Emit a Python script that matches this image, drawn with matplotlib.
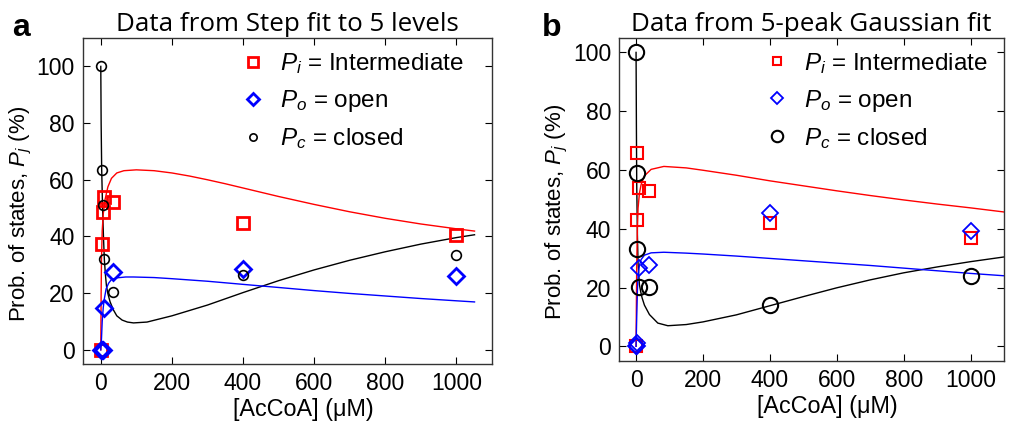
import matplotlib
matplotlib.use('Agg')
import matplotlib.pyplot as plt

plt.rcParams['font.family'] = ['Liberation Sans', 'DejaVu Sans']
plt.rcParams['mathtext.fontset'] = 'custom'
plt.rcParams['mathtext.it'] = 'Liberation Sans:italic'
plt.rcParams['mathtext.rm'] = 'Liberation Sans'

# ---- panel a: step fit to 5 levels ----
conc_a = [0, 2.5, 5, 10, 35, 400, 1000]
pi_a = [0, 37.2, 48.6, 53.8, 52.1, 44.9, 40.5]
po_a = [0, 0, 0, 14.7, 27.6, 28.5, 26.1]
pc_a = [100, 63.3, 51.2, 32.0, 20.4, 26.5, 33.5]

# model curves
fit_x_red_a = [0, 1, 2, 4, 7, 12, 20, 30, 45, 65, 100, 150, 200, 250, 300, 350, 400, 450, 500,
               600, 700, 800, 900, 1000, 1051]
fit_red_a = [0, 20, 32, 42, 48, 53, 57.5, 60.5, 62.4, 63.2, 63.5, 63.2, 62.4, 61.3, 60.0, 58.6, 57.1,
             55.6, 54.1, 51.3, 48.7, 46.4, 44.4, 42.7, 41.9]
fit_x_blk_a = [0, 1, 2.5, 5, 7.5, 10, 13, 16, 20, 26, 35, 45, 60, 75, 92, 130, 200, 300, 400, 500,
               600, 700, 800, 900, 1000, 1051]
fit_blk_a = [100, 80, 64, 50, 40, 32, 26.5, 22.5, 19.8, 17.0, 14.2, 12.0, 10.5, 9.8, 9.5, 9.8, 12.0,
             15.8, 20.2, 24.4, 28.2, 31.6, 34.6, 37.3, 39.6, 40.6]
fit_x_blu_a = [0, 2, 4, 7, 10, 15, 22, 30, 45, 70, 92, 150, 200, 300, 400, 500, 600, 700, 800, 900,
               1000, 1051]
fit_blu_a = [0, 4, 10, 15, 18, 21.5, 23.5, 24.8, 25.4, 25.7, 25.7, 25.5, 25.1, 24.2, 23.1, 22.0,
             20.9, 19.9, 19.0, 18.1, 17.3, 16.9]

# ---- panel b: 5-peak Gaussian fit ----
conc_b = [0, 2, 4, 8, 38, 400, 1000]
pi_b = [0, 43.0, 65.7, 53.8, 52.9, 42.1, 37.0]
po_b = [0, 0, 1.0, 26.8, 27.6, 45.3, 39.4]
pc_b = [100, 58.9, 33.1, 20.2, 20.2, 13.9, 23.8]

fit_x_red_b = [0, 1, 2, 4, 6, 10, 15, 25, 45, 83, 150, 200, 300, 400, 500, 600, 700, 800, 900,
               1000, 1100]
fit_red_b = [0, 15, 28, 40, 47, 52, 55, 58, 60.2, 61.2, 60.7, 59.9, 58.2, 56.3, 54.6, 52.9, 51.3,
             49.8, 48.4, 47.1, 45.7]
fit_x_blk_b = [0, 1, 2, 4, 6, 10, 14, 18, 25, 40, 65, 95, 150, 200, 300, 400, 500, 600, 700, 800,
               900, 1000, 1100]
fit_blk_b = [100, 75, 55, 38, 28, 21, 18.5, 16.5, 14.0, 10.8, 7.9, 7.0, 7.4, 8.3, 10.7, 13.8, 16.9,
             19.9, 22.6, 25.0, 27.0, 28.8, 30.4]
fit_x_blu_b = [0, 2, 4, 6, 10, 15, 25, 45, 83, 150, 200, 300, 400, 500, 600, 700, 800, 900, 1000,
               1100]
fit_blu_b = [0, 10, 19, 24, 27.5, 29.5, 31, 31.8, 32.0, 31.7, 31.4, 30.7, 29.9, 29.1, 28.3, 27.5,
             26.6, 25.7, 24.8, 24.0]

fig = plt.figure(figsize=(10.11, 4.25), dpi=100)
ax_a = fig.add_axes([0.0821, 0.1435, 0.4045, 0.767])
ax_b = fig.add_axes([0.6126, 0.1506, 0.3805, 0.7607])


def style_axes(ax, ylim):
    ax.set_xlim(-50, 1100)
    ax.set_ylim(*ylim)
    ax.set_xticks([0, 200, 400, 600, 800, 1000])
    ax.set_yticks([0, 20, 40, 60, 80, 100])
    ax.tick_params(direction='in', length=5, width=0.8, top=True, right=True,
                   labelsize=16.5, colors='black', pad=6)
    for sp in ax.spines.values():
        sp.set_color('#333333')
        sp.set_linewidth(1.0)
    ax.set_xlabel('[AcCoA] (μM)', fontsize=16.8, x=0.54, labelpad=2)
    ax.set_ylabel(r'Prob. of states, $P_j$ (%)', fontsize=16, y=0.46, labelpad=2)


def add_legend(ax, anchor):
    ax.legend(loc='upper right', fontsize=17.5, frameon=False, handlelength=1.0,
              handletextpad=0.6, labelspacing=0.5, markerscale=0.75,
              borderaxespad=0.0, bbox_to_anchor=anchor)


# panel a
ax_a.plot(fit_x_blk_a, fit_blk_a, color='black', lw=1.0)
ax_a.plot(fit_x_red_a, fit_red_a, color='red', lw=1.0)
ax_a.plot(fit_x_blu_a, fit_blu_a, color='blue', lw=1.0)
ax_a.plot(conc_a, pi_a, 's', ms=9, mfc='none', mec='red', mew=2.0, ls='none',
          label=r'$P_i$ = Intermediate')
ax_a.plot(conc_a, po_a, 'D', ms=8, mfc='none', mec='blue', mew=2.0, ls='none',
          label=r'$P_o$ = open')
ax_a.plot(conc_a, pc_a, 'o', ms=7, mfc='none', mec='black', mew=1.2, ls='none',
          label=r'$P_c$ = closed')
style_axes(ax_a, (-5, 110))
ax_a.set_title('Data from Step fit to 5 levels', fontsize=18.7, family='Open Sans', pad=5)
add_legend(ax_a, (0.955, 0.99))

# panel b
ax_b.plot(fit_x_blk_b, fit_blk_b, color='black', lw=1.0)
ax_b.plot(fit_x_red_b, fit_red_b, color='red', lw=1.0)
ax_b.plot(fit_x_blu_b, fit_blu_b, color='blue', lw=1.0)
ax_b.plot(conc_b, pi_b, 's', ms=8, mfc='none', mec='red', mew=1.5, ls='none',
          label=r'$P_i$ = Intermediate')
ax_b.plot(conc_b, po_b, 'D', ms=8, mfc='none', mec='blue', mew=1.3, ls='none',
          label=r'$P_o$ = open')
ax_b.plot(conc_b, pc_b, 'o', ms=11, mfc='none', mec='black', mew=1.5, ls='none',
          label=r'$P_c$ = closed')
style_axes(ax_b, (-5, 105))
ax_b.set_title('Data from 5-peak Gaussian fit', fontsize=18.7, family='Open Sans', pad=5)
add_legend(ax_b, (0.983, 0.99))

fig.text(0.012, 0.915, 'a', fontsize=23, fontweight='bold')
fig.text(0.536, 0.915, 'b', fontsize=23, fontweight='bold')

fig.savefig('out.png', dpi=100)
